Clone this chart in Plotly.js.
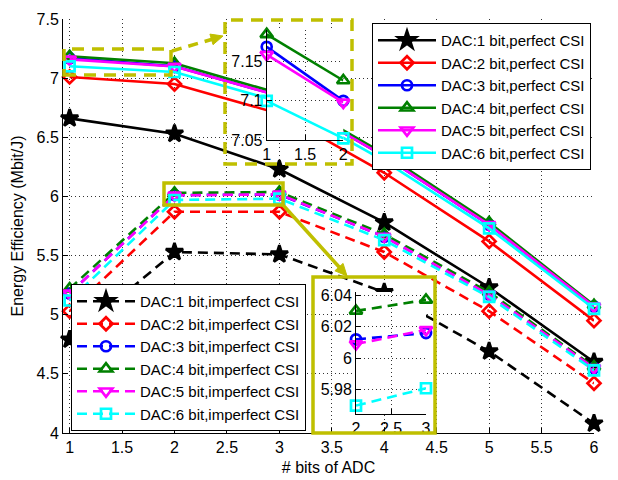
<!DOCTYPE html>
<html><head><meta charset="utf-8">
<script src="https://cdn.plot.ly/plotly-3.0.1.min.js"></script>
<style>html,body{margin:0;padding:0;background:#fff}#chart{width:618px;height:480px}</style>
</head><body><div id="chart"></div>
<script>
// ---- data ----
const adcBits = [1, 2, 3, 4, 5, 6];
const dacNames = ['DAC:1 bit', 'DAC:2 bit', 'DAC:3 bit', 'DAC:4 bit', 'DAC:5 bit', 'DAC:6 bit'];
const perfectDAC1 = [6.66, 6.53, 6.23, 5.78, 5.23, 4.60];
const perfectDAC2 = [7.01, 6.95, 6.70, 6.20, 5.62, 4.95];
const perfectDAC3 = [7.169, 7.100, 6.85, 6.34, 5.76, 5.07];
const perfectDAC4 = [7.185, 7.126, 6.87, 6.36, 5.78, 5.08];
const perfectDAC5 = [7.159, 7.098, 6.85, 6.34, 5.76, 5.07];
const perfectDAC6 = [7.100, 7.052, 6.80, 6.30, 5.73, 5.05];
const imperfectDAC1 = [4.79, 5.53, 5.51, 5.19, 4.69, 4.08];
const imperfectDAC2 = [5.03, 5.87, 5.87, 5.53, 5.03, 4.42];
const imperfectDAC3 = [5.18, 6.012, 6.016, 5.66, 5.17, 4.55];
const imperfectDAC4 = [5.22, 6.030, 6.037, 5.68, 5.19, 4.56];
const imperfectDAC5 = [5.18, 6.009, 6.018, 5.66, 5.17, 4.55];
const imperfectDAC6 = [5.12, 5.970, 5.981, 5.63, 5.15, 4.53];
const xTickLabels = ['1', '1.5', '2', '2.5', '3', '3.5', '4', '4.5', '5', '5.5', '6'];
const yTickLabels = ['4', '4.5', '5', '5.5', '6', '6.5', '7', '7.5'];

const perfect = [perfectDAC1, perfectDAC2, perfectDAC3, perfectDAC4, perfectDAC5, perfectDAC6];
const imperfect = [imperfectDAC1, imperfectDAC2, imperfectDAC3, imperfectDAC4, imperfectDAC5, imperfectDAC6];

// ---- styles ----
const colors = ['#000000', '#ff0000', '#0000ff', '#008000', '#ff00ff', '#00ffff'];
const symbols = ['star', 'diamond-open', 'circle-open', 'triangle-up-open', 'triangle-down-open', 'square-open'];
const sizes = [13, 10, 10, 11, 11, 10];
const FONT = 'Liberation Sans, Arial, sans-serif';
const YEL = '#bfbf00';
const DASH = '10px,6px';

const traces = [];
function addSeries(vals, i, kind, xa, ya, xs, show) {
  traces.push({
    type: 'scatter', mode: 'lines+markers',
    x: xs, y: vals,
    xaxis: xa, yaxis: ya,
    name: dacNames[i] + (kind === 'p' ? ',perfect CSI' : ',imperfect CSI'),
    legend: kind === 'p' ? 'legend' : 'legend2',
    showlegend: show,
    cliponaxis: false,
    line: {color: colors[i], width: 2.6, dash: kind === 'p' ? 'solid' : DASH},
    marker: {symbol: symbols[i], size: sizes[i], color: colors[i],
             line: {color: colors[i], width: 2.7}}
  });
}
perfect.forEach((v, i) => addSeries(v, i, 'p', 'x', 'y', adcBits, true));
imperfect.forEach((v, i) => addSeries(v, i, 'i', 'x', 'y', adcBits, true));
// zoomed insets
perfect.forEach((v, i) => addSeries(v.slice(0, 2), i, 'p', 'x2', 'y2', adcBits.slice(0, 2), false));
imperfect.forEach((v, i) => addSeries(v.slice(1, 3), i, 'i', 'x3', 'y3', adcBits.slice(1, 3), false));

// ---- pixel -> paper helpers (plot area 63..594 x 19..433) ----
const L = 63, R = 594, T = 19, B = 433;
const PX = p => (p - L) / (R - L);
const PY = p => (B - p) / (B - T);
function rect(x0, y0, x1, y1, dash) {
  return {type: 'rect', xref: 'paper', yref: 'paper', layer: 'above',
    x0: PX(x0), x1: PX(x1), y0: PY(y1), y1: PY(y0),
    line: {color: YEL, width: 3.5, dash: dash || 'solid'}, fillcolor: 'rgba(0,0,0,0)'};
}
function seg(x0, y0, x1, y1, dash) {
  return {type: 'line', xref: 'paper', yref: 'paper', layer: 'above',
    x0: PX(x0), x1: PX(x1), y0: PY(y0), y1: PY(y1),
    line: {color: YEL, width: 3.5, dash: dash || 'solid'}};
}
function head(x0, y0, tx, ty) {
  const dx = tx - x0, dy = ty - y0, n = Math.hypot(dx, dy);
  const ux = dx / n, uy = dy / n, hl = 12, hw = 5.5;
  const bx = tx - hl * ux, by = ty - hl * uy;
  const p1 = [bx + hw * uy, by - hw * ux], p2 = [bx - hw * uy, by + hw * ux];
  return {type: 'path', xref: 'paper', yref: 'paper', layer: 'above',
    path: `M${PX(tx)},${PY(ty)} L${PX(p1[0])},${PY(p1[1])} L${PX(p2[0])},${PY(p2[1])} Z`,
    fillcolor: YEL, line: {color: YEL, width: 1}};
}
const shapes = [
  rect(64, 49, 171, 75, '12px,8px'),
  rect(225, 20, 352, 164, '12px,8px'),
  seg(172, 51, 213, 39, '10px,7px'),
  head(172, 51, 223, 36),
  rect(164, 183, 283, 205),
  seg(283, 205, 340, 268),
  head(283, 205, 347, 276),
  rect(313, 277, 435, 433)
];

const gridStyle = {showgrid: true, gridcolor: '#333', gridwidth: 1, griddash: '1px,3px',
  showline: true, linecolor: '#000', linewidth: 1, ticks: 'inside', ticklen: 5,
  tickcolor: '#000', zeroline: false, mirror: false, fixedrange: true,
  tickfont: {family: FONT, size: 16, color: '#000'}};

const layout = {
  width: 618, height: 480,
  margin: {l: L, r: 618 - R, t: T, b: 480 - B},
  paper_bgcolor: '#fff', plot_bgcolor: '#fff',
  font: {family: FONT, color: '#000'},
  xaxis: Object.assign({}, gridStyle, {
    domain: [0, 1], range: [0.937, 6],
    tickvals: xTickLabels.map(Number), ticktext: xTickLabels,
    title: {text: '# bits of ADC', font: {family: FONT, size: 16}, standoff: 6}
  }),
  yaxis: Object.assign({}, gridStyle, {
    domain: [0, 1], range: [4, 7.5],
    tickvals: yTickLabels.map(Number), ticktext: yTickLabels,
    title: {text: 'Energy Efficiency (Mbit/J)', font: {family: FONT, size: 16}, standoff: 8}
  }),
  xaxis2: Object.assign({}, gridStyle, {
    anchor: 'y2', domain: [PX(266.7), PX(343.3)], range: [1, 2],
    tickvals: [1, 1.5, 2], ticktext: ['1', '1.5', '2']
  }),
  yaxis2: Object.assign({}, gridStyle, {
    anchor: 'x2', domain: [PY(140), PY(30.4)], range: [7.05, 7.19],
    tickvals: [7.05, 7.1, 7.15, 7.19], ticktext: ['7.05', '7.1', '7.15', '']
  }),
  xaxis3: Object.assign({}, gridStyle, {
    anchor: 'y3', domain: [PX(356), PX(426)], range: [2, 3],
    tickvals: [2, 2.5, 3], ticktext: ['2', '2.5', '3']
  }),
  yaxis3: Object.assign({}, gridStyle, {
    anchor: 'x3', domain: [PY(413.5), PY(292)], range: [5.965, 6.042],
    tickvals: [5.98, 6, 6.02, 6.04], ticktext: ['5.98', '6', '6.02', '6.04']
  }),
  legend: {x: PX(372), y: PY(23), xanchor: 'left', yanchor: 'top',
    bgcolor: '#fff', bordercolor: '#000', borderwidth: 1, itemwidth: 58,
    font: {family: FONT, size: 15, color: '#000'}, tracegroupgap: 0},
  legend2: {x: PX(71), y: PY(431), xanchor: 'left', yanchor: 'bottom',
    bgcolor: '#fff', bordercolor: '#000', borderwidth: 1, itemwidth: 58,
    font: {family: FONT, size: 15, color: '#000'}, tracegroupgap: 0},
  shapes: shapes,
  showlegend: true
};

Plotly.newPlot('chart', traces, layout, {displayModeBar: false, staticPlot: true});
</script>
</body></html>
